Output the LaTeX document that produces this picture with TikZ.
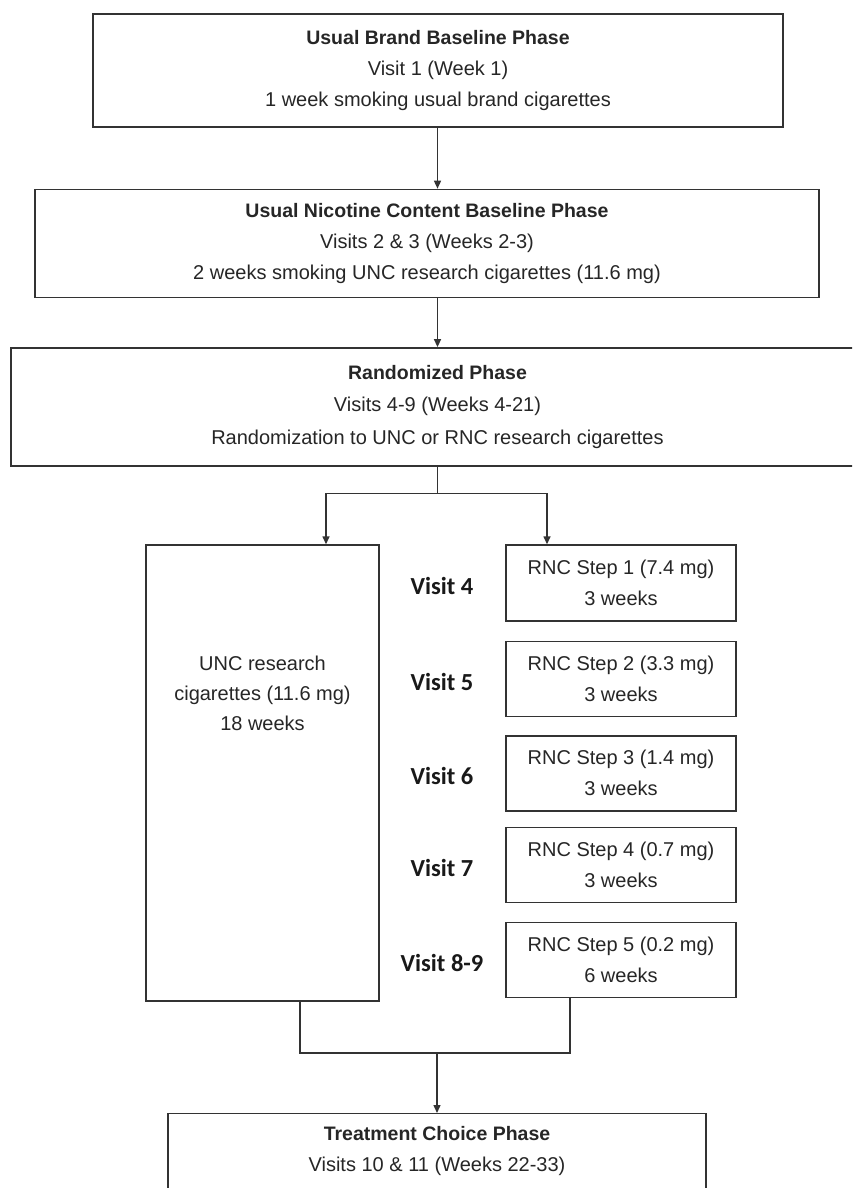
\documentclass[tikz,border=0pt]{standalone}
\usepackage{fontspec}
\setmainfont{Liberation Sans}
\newfontfamily\visitfont{Carlito}
\usetikzlibrary{arrows.meta, positioning, calc}
\newcommand{\hdr}[1]{{\fontsize{19.5}{31}\selectfont\bfseries #1}}

\begin{document}
\begin{tikzpicture}[x=1pt,y=-1pt,
		elem/.style={draw=black!80,line width=1.4pt,rectangle,inner sep=0pt,align=center,text=black!85,font=\fontsize{20}{31}\selectfont},
		rncs/.style={elem,minimum width=230pt,minimum height=75pt},
		visit/.style={text=black!90,font=\visitfont\bfseries\fontsize{24.5}{28}\selectfont},
		plain/.style={text=black!85,align=center,font=\fontsize{20}{31}\selectfont},
		arr/.style={draw=black!80,line width=1.4pt,-{Triangle[length=8pt,width=7pt]}},
		lin/.style={draw=black!80,line width=1.4pt}
	]
		\clip (0,0) rectangle (852,1188);
		\fill[white] (0,0) rectangle (852,1188);

		% phases
		\node (ubbp) [elem,minimum width=690pt,minimum height=113pt] at (438,70.5) {\hdr{Usual Brand Baseline Phase}\\Visit 1 (Week 1)\\1 week smoking usual brand cigarettes};
		\node (uncb) [elem,minimum width=784pt,minimum height=108pt,below=61pt of ubbp,xshift=-11pt] {\hdr{Usual Nicotine Content Baseline Phase}\\Visits 2 \& 3 (Weeks 2-3)\\2 weeks smoking UNC research cigarettes (11.6 mg)};
		\node (rand) [elem,minimum width=853pt,minimum height=118pt,below=49pt of uncb,xshift=10.5pt,font=\fontsize{20}{32.5}\selectfont] {\hdr{Randomized Phase}\\Visits 4-9 (Weeks 4-21)\\Randomization to UNC or RNC research cigarettes};

		% arms
		\node (uncr) [elem,minimum width=233pt,minimum height=456pt] at (262.5,773) {};
		\node (unct) [plain,font=\fontsize{20}{30}\selectfont] at (262.5,693) {UNC research\\cigarettes (11.6 mg)\\18 weeks};
		\node (rnc1) [rncs,minimum height=76pt] at (621,583) {RNC Step 1 (7.4 mg)\\3 weeks};
		\node (rnc2) [rncs,below=19pt of rnc1] {RNC Step 2 (3.3 mg)\\3 weeks};
		\node (rnc3) [rncs,below=18pt of rnc2] {RNC Step 3 (1.4 mg)\\3 weeks};
		\node (rnc4) [rncs,below=15pt of rnc3] {RNC Step 4 (0.7 mg)\\3 weeks};
		\node (rnc5) [rncs,below=19pt of rnc4] {RNC Step 5 (0.2 mg)\\6 weeks};

		\node (vis4) [visit] at ($(rnc1)+(-179,3)$) {Visit 4};
		\node (vis5) [visit] at ($(rnc2)+(-179,3)$) {Visit 5};
		\node (vis6) [visit] at ($(rnc3)+(-179,3)$) {Visit 6};
		\node (vis7) [visit] at ($(rnc4)+(-179,3)$) {Visit 7};
		\node (vis8) [visit] at ($(rnc5)+(-179,3)$) {Visit 8-9};

		\node (trch) [elem,anchor=north,minimum width=538pt,minimum height=120pt] at (437,1113) {};
		\node (trct) [plain] at (437,1150.5) {\hdr{Treatment Choice Phase}\\Visits 10 \& 11 (Weeks 22-33)};

		% connectors
		\coordinate (splt) at ($(rand.south)+(0,27)$);
		\coordinate (mrge) at (437,1053);
		\draw [arr] (ubbp.south -| rand.north) -- (uncb.north -| rand.north);
		\draw [arr] (uncb.south -| rand.north) -- (rand.north);
		\draw [lin] (rand.south) -- (splt);
		\draw [arr] (splt) -| ([xshift=63.5pt]uncr.north);
		\draw [arr] (splt) -| ([xshift=-74pt]rnc1.north);
		\draw [lin] ([xshift=37.5pt]uncr.south) |- (mrge) -| ([xshift=-51pt]rnc5.south);
		\draw [arr] (mrge) -- (trch.north);
	\end{tikzpicture}
\end{document}
